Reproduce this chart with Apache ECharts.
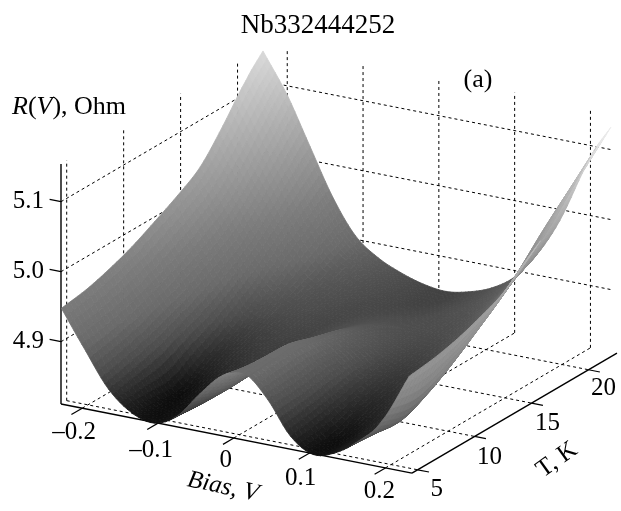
<!DOCTYPE html>
<html><head><meta charset="utf-8">
<style>html,body{margin:0;padding:0;background:#fff}#c{width:621px;height:511px}</style>
<script src="https://cdn.jsdelivr.net/npm/echarts@6/dist/echarts.min.js"></script>
</head><body><div id="c"></div>
<script>
var titleText = 'Nb332444252';
var biasTicks = [-0.2, -0.1, 0, 0.1, 0.2];
var biasLabels = ['–0.2', '–0.1', '0', '0.1', '0.2'];
var tempTicks = [5, 10, 15, 20];
var tempLabels = ['5', '10', '15', '20'];
var resTicks = [4.9, 5.0, 5.1];
var resLabels = ['4.9', '5.0', '5.1'];
var biasGrid = [-0.232, -0.2, -0.17, -0.14, -0.11, -0.08, -0.05, -0.02, 0.01, 0.04, 0.07, 0.10, 0.13, 0.16, 0.19, 0.227];
var tempGrid = [4.8, 7, 9, 11, 13, 15, 17, 19, 21, 22.5];
var rT05 = [4.944, 4.890, 4.842, 4.815, 4.806, 4.822, 4.860, 4.893, 4.902, 4.872, 4.826, 4.806, 4.815, 4.838, 4.872, 4.945];
var rT07 = [4.950, 4.897, 4.850, 4.810, 4.807, 4.820, 4.845, 4.880, 4.905, 4.873, 4.832, 4.806, 4.818, 4.835, 4.862, 4.950];
var rT09 = [4.960, 4.907, 4.860, 4.808, 4.815, 4.830, 4.845, 4.875, 4.905, 4.877, 4.840, 4.820, 4.828, 4.848, 4.875, 4.958];
var rT11 = [4.973, 4.920, 4.874, 4.828, 4.830, 4.840, 4.848, 4.868, 4.895, 4.877, 4.848, 4.832, 4.842, 4.863, 4.895, 4.970];
var rT13 = [4.990, 4.936, 4.888, 4.845, 4.843, 4.848, 4.850, 4.865, 4.885, 4.874, 4.853, 4.843, 4.855, 4.880, 4.920, 4.985];
var rT15 = [5.008, 4.955, 4.907, 4.865, 4.855, 4.855, 4.853, 4.862, 4.873, 4.868, 4.857, 4.853, 4.868, 4.900, 4.945, 5.012];
var rT17 = [5.030, 4.978, 4.930, 4.890, 4.868, 4.860, 4.855, 4.858, 4.862, 4.862, 4.860, 4.862, 4.882, 4.920, 4.975, 5.038];
var rT19 = [5.070, 5.013, 4.962, 4.915, 4.880, 4.866, 4.858, 4.855, 4.855, 4.858, 4.864, 4.872, 4.900, 4.945, 5.010, 5.075];
var rT21 = [5.115, 5.055, 4.995, 4.938, 4.895, 4.875, 4.862, 4.855, 4.851, 4.856, 4.866, 4.882, 4.917, 4.968, 5.040, 5.112];
var rT22 = [5.143, 5.087, 5.020, 4.954, 4.905, 4.880, 4.865, 4.855, 4.851, 4.857, 4.869, 4.891, 4.930, 4.985, 5.060, 5.132];
var rows = [rT05, rT07, rT09, rT11, rT13, rT15, rT17, rT19, rT21, rT22];

// 3D box limits
var V0 = -0.228, V1 = 0.235, T0 = 4.5, T1 = 22.5, Z0 = 4.811, Z1 = 5.154;
// oblique projection of (bias, T, R) on the page plane
function proj(v, t, z) {
  return [61 + 758 * (v - V0) + 11.39 * (t - T0),
          404 + 149.3 * (v - V0) - 6.67 * (t - T0) - 700 * (z - Z0)];
}
var FONT = '"Liberation Serif","Times New Roman",serif';
var SUB = 6;

function cr(a, b, c, d, s) {
  return 0.5 * (2 * b + (c - a) * s + (2 * a - 5 * b + 4 * c - d) * s * s + (3 * b - a - 3 * c + d) * s * s * s);
}
function rowAt(j, i) {
  var ni = biasGrid.length - 1, nj = rows.length - 1;
  var ii = Math.max(0, Math.min(ni, i)), jj = Math.max(0, Math.min(nj, j));
  var val = rows[jj][ii];
  if (i < 0) val = 2 * rows[jj][0] - rows[jj][1];
  if (i > ni) val = 2 * rows[jj][ni] - rows[jj][ni - 1];
  if (j < 0) val = 2 * rows[0][ii] - rows[1][ii];
  if (j > nj) val = 2 * rows[nj][ii] - rows[nj - 1][ii];
  return val;
}
function sampleR(i, j, s, t) {
  var c = [];
  for (var k = -1; k <= 2; k++) {
    c.push(cr(rowAt(j + k, i - 1), rowAt(j + k, i), rowAt(j + k, i + 1), rowAt(j + k, i + 2), s));
  }
  return cr(c[0], c[1], c[2], c[3], t);
}
var shadeZ = [4.80, 4.83, 4.86, 4.90, 4.95, 5.05, 5.15];
var shadeG = [8, 42, 76, 106, 124, 172, 222];
function grayOf(z) {
  if (z <= shadeZ[0]) return shadeG[0];
  for (var k = 1; k < shadeZ.length; k++) {
    if (z <= shadeZ[k]) return shadeG[k - 1] + (shadeG[k] - shadeG[k - 1]) * (z - shadeZ[k - 1]) / (shadeZ[k] - shadeZ[k - 1]);
  }
  return shadeG[shadeG.length - 1];
}
function pt(api, v, t, z) { return api.coord(proj(v, t, z)); }

// painter's order: far corner (min bias, max T) first
var cells = [];
for (var j = tempGrid.length - 2; j >= 0; j--) {
  for (var i = 0; i < biasGrid.length - 1; i++) cells.push([i, j]);
}

function renderCell(params, api) {
  var i = api.value(0), j = api.value(1), kids = [];
  var v0 = biasGrid[i], v1 = biasGrid[i + 1], t0 = tempGrid[j], t1 = tempGrid[j + 1];
  for (var b = SUB - 1; b >= 0; b--) {
    for (var a = 0; a < SUB; a++) {
      var s0 = a / SUB, s1 = (a + 1) / SUB, u0 = b / SUB, u1 = (b + 1) / SUB;
      var z00 = sampleR(i, j, s0, u0), z10 = sampleR(i, j, s1, u0), z11 = sampleR(i, j, s1, u1), z01 = sampleR(i, j, s0, u1);
      var P = [
        pt(api, v0 + (v1 - v0) * s0, t0 + (t1 - t0) * u0, z00),
        pt(api, v0 + (v1 - v0) * s1, t0 + (t1 - t0) * u0, z10),
        pt(api, v0 + (v1 - v0) * s1, t0 + (t1 - t0) * u1, z11),
        pt(api, v0 + (v1 - v0) * s0, t0 + (t1 - t0) * u1, z01)
      ];
      var cross = (P[1][0] - P[0][0]) * (P[3][1] - P[0][1]) - (P[1][1] - P[0][1]) * (P[3][0] - P[0][0]);
      var g = grayOf((z00 + z10 + z11 + z01) / 4);
      if (cross > 0) g = Math.min(255, g + 26);
      g = Math.round(g);
      var col = 'rgb(' + g + ',' + g + ',' + g + ')';
      kids.push({ type: 'polygon', shape: { points: P }, style: { fill: col, stroke: col, lineWidth: 0.8 } });
    }
  }
  return { type: 'group', children: kids };
}

function seg(api, a, b, dash, w) {
  var p = api.coord(proj(a[0], a[1], a[2])), q = api.coord(proj(b[0], b[1], b[2]));
  return { type: 'line', shape: { x1: p[0], y1: p[1], x2: q[0], y2: q[1] },
    style: { stroke: '#000', lineWidth: w, lineDash: dash ? [3, 3] : null, fill: null } };
}
var DV = 0.229;
function renderGrid(params, api) {
  var k = [];
  biasTicks.forEach(function (v) {
    k.push(seg(api, [v, T0, Z0], [v, T1, Z0], true, 1));
    k.push(seg(api, [v, T1, Z0], [v, T1, Z1], true, 1));
  });
  tempTicks.forEach(function (t) {
    k.push(seg(api, [V0, t, Z0], [V1, t, Z0], true, 1));
    k.push(seg(api, [V0, t, Z0], [V0, t, Z1], true, 1));
  });
  resTicks.forEach(function (z) {
    k.push(seg(api, [V0, T0, z], [V0, T1, z], true, 1));
    k.push(seg(api, [V0, T1, z], [DV, T1, z], true, 1));
  });
  k.push(seg(api, [V0, T0, Z0], [V1, T0, Z0], false, 1.4));
  k.push(seg(api, [V1, T0, Z0], [V1, T1, Z0], false, 1.4));
  k.push(seg(api, [V0, T0, Z0], [V0, T0, Z1], false, 1.4));
  biasTicks.forEach(function (v) { k.push(seg(api, [v, T0, Z0], [v, T0 - 0.95, Z0], false, 1.2)); });
  tempTicks.forEach(function (t) { k.push(seg(api, [V1, t, Z0], [V1 + 0.015, t, Z0], false, 1.2)); });
  resTicks.forEach(function (z) {
    k.push(seg(api, [V0, T0, z], [V0 - 0.015, T0, z], false, 1.2));
  });
  return { type: 'group', children: k };
}
function txt(api, pos, s, size, extra) {
  var p = api.coord(pos);
  var o = { type: 'text', x: p[0], y: p[1], rotation: (extra && extra.rot) || 0, originX: 0, originY: 0,
    style: { text: s, fill: '#000', font: ((extra && extra.style) || '') + ' ' + size + 'px ' + FONT, align: (extra && extra.align) || 'center', verticalAlign: 'middle' } };
  if (extra && extra.rich) o.style.rich = extra.rich;
  return o;
}
var biasOff = [[-8, 24], [-7, 27], [-8, 22], [-9, 25], [-6, 24]];
var tempOff = [[19, 20], [15, 21], [16, 20], [15, 19]];
function renderText(params, api) {
  var k = [];
  k.push(txt(api, [318, 26], titleText, 27));
  k.push(txt(api, [478, 80], '(a)', 26));
  k.push(txt(api, [12, 107], '{i|R}{n|(}{i|V}{n|), Ohm}', 26, { align: 'left', rich: {
    i: { font: 'italic 26px ' + FONT, fill: '#000' }, n: { font: '26px ' + FONT, fill: '#000' } } }));
  biasTicks.forEach(function (v, n) {
    var p = proj(v, T0, Z0);
    k.push(txt(api, [p[0] + biasOff[n][0], p[1] + biasOff[n][1]], biasLabels[n], 25));
  });
  tempTicks.forEach(function (t, n) {
    var p = proj(V1, t, Z0);
    k.push(txt(api, [p[0] + tempOff[n][0], p[1] + tempOff[n][1]], tempLabels[n], 25));
  });
  resTicks.forEach(function (z, n) {
    var p = proj(V0, T0, z);
    k.push(txt(api, [p[0] - 17, p[1]], resLabels[n], 25, { align: 'right' }));
  });
  k.push(txt(api, [223, 487], 'Bias, V', 25, { style: 'italic', rot: -0.21 }));
  k.push(txt(api, [557, 460], 'T, K', 25, { rot: 0.62 }));
  return { type: 'group', children: k };
}

var chart = echarts.init(document.getElementById('c'), null, { renderer: 'canvas' });
chart.setOption({
  animation: false,
  backgroundColor: '#fff',
  grid: { left: 0, top: 0, width: 621, height: 511 },
  xAxis: { type: 'value', min: 0, max: 621, show: false },
  yAxis: { type: 'value', min: 0, max: 511, inverse: true, show: false },
  series: [
    { type: 'custom', name: 'box', clip: false, silent: true, coordinateSystem: 'cartesian2d', data: [[0, 0]], renderItem: renderGrid, z: 1 },
    { type: 'custom', name: 'R(V,T)', clip: false, silent: true, coordinateSystem: 'cartesian2d', data: cells, renderItem: renderCell, z: 2 },
    { type: 'custom', name: 'labels', clip: false, silent: true, coordinateSystem: 'cartesian2d', data: [[0, 0]], renderItem: renderText, z: 3 }
  ]
});
</script></body></html>
